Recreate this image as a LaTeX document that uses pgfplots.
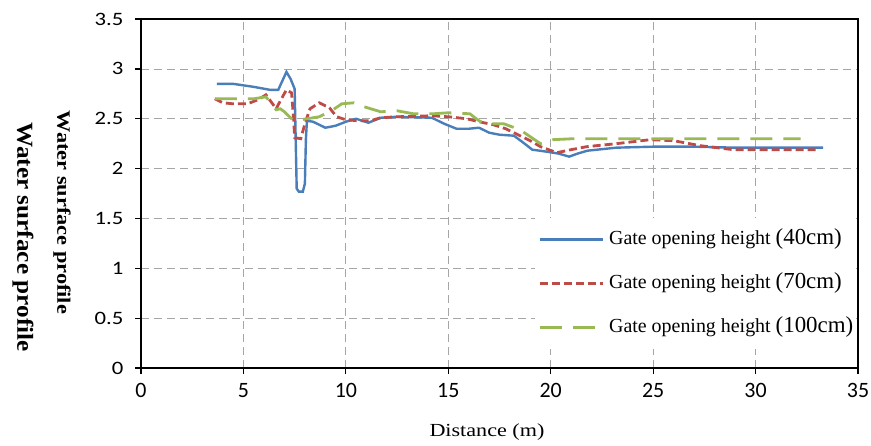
\documentclass[border=0pt]{standalone}
\usepackage{pgfplots}
\pgfplotsset{compat=1.18}
\usepackage{fontspec}
\setmainfont{Liberation Serif}
\newfontfamily\ytickfont[FakeStretch=1.2]{Carlito}
\newfontfamily\xtickfont{Carlito}
\newfontfamily\legfont{Liberation Serif}
\newfontfamily\xlabfont[FakeStretch=1.2]{Liberation Serif}
\newfontfamily\smalllab[FakeStretch=1.18]{Liberation Serif}
\newfontfamily\biglab[FakeStretch=1.1]{Liberation Serif}

\definecolor{cblue}{HTML}{4A7EBB}
\definecolor{cred}{HTML}{BE4B48}
\definecolor{cgreen}{HTML}{98B954}
\definecolor{cgrid}{HTML}{A6A6A6}

\begin{document}
\begin{tikzpicture}
\begin{axis}[
  width=717bp, height=349bp, scale only axis,
  xmin=0, xmax=35, ymin=0, ymax=3.5,
  xtick={0,5,...,35}, ytick={0,0.5,...,3.5},
  grid=major, grid style={cgrid, line width=0.8bp, dash pattern=on 8bp off 5bp},
  axis line style={black, line width=1.6bp},
  tick style={black, line width=1.2bp},
  tick align=outside, major tick length=6bp,
  xtick pos=left, ytick pos=left,
  x tick label style={font=\xtickfont\fontsize{22}{22}\selectfont, yshift=-6bp},
  y tick label style={font=\ytickfont\fontsize{19}{19}\selectfont, xshift=-8bp},
  /pgf/number format/assume math mode=true,
  clip=false,
  legend image code/.code={\draw[#1] (0bp,0bp) -- (63bp,0bp);},
  legend cell align=left,
  legend style={at={(rel axis cs:1,0.43)}, xshift=-1.5bp, anchor=north east, fill=white, draw=none,
    inner xsep=3bp, inner ysep=12bp, row sep=25bp, column sep=5bp,
    font=\legfont\fontsize{20}{20}\selectfont,
    nodes={inner sep=0pt, text height=14bp, text depth=5bp}},
]
% gate opening 40 cm
\addplot[cblue, line width=2.4bp] coordinates {
(3.7,2.85) (4.5,2.85) (5.5,2.82) (6.3,2.79) (6.7,2.79) (6.9,2.88) (7.1,2.97)
(7.3,2.90) (7.5,2.80) (7.55,2.3) (7.6,1.80) (7.7,1.77) (7.9,1.77) (8.0,1.85)
(8.05,2.3) (8.1,2.48) (8.4,2.47) (9.0,2.41) (9.5,2.43) (10.0,2.47) (10.5,2.50)
(11.1,2.46) (11.7,2.51) (12.5,2.52) (14.2,2.51) (14.8,2.45) (15.4,2.40) (16.0,2.40)
(16.5,2.41) (17.0,2.36) (17.5,2.34) (18.2,2.33) (18.6,2.27) (19.1,2.19) (19.8,2.17)
(20.4,2.15) (20.9,2.12) (21.3,2.15) (21.8,2.18) (23.2,2.21) (25,2.22) (27,2.22)
(29,2.21) (33.3,2.21)};
\addlegendentry{Gate opening height {\fontsize{23}{23}\selectfont(40cm)}}
% gate opening 70 cm
\addplot[cred, line width=2.8bp, dash pattern=on 8bp off 4bp] coordinates {
(3.6,2.70) (4.0,2.66) (4.5,2.65) (5.2,2.65) (5.7,2.69) (6.1,2.74) (6.6,2.60)
(6.8,2.68) (7.1,2.79) (7.35,2.76) (7.45,2.50) (7.5,2.31) (7.8,2.30) (8.0,2.45)
(8.25,2.60) (8.7,2.66) (9.2,2.61) (9.55,2.52) (10.0,2.49) (10.6,2.48) (11.2,2.48)
(11.7,2.51) (12.5,2.52) (14.2,2.53) (15.0,2.52) (15.9,2.50) (16.5,2.47) (17.2,2.44)
(17.8,2.40) (18.3,2.35) (19.0,2.28) (19.5,2.22) (20.3,2.16) (21.0,2.19) (21.75,2.22)
(23.2,2.25) (24.85,2.29) (26,2.28) (27.3,2.23) (28.9,2.19) (33.0,2.19)};
\addlegendentry{Gate opening height {\fontsize{23}{23}\selectfont(70cm)}}
% gate opening 100 cm
\addplot[cgreen, line width=2.8bp, dash pattern=on 22bp off 11bp] coordinates {
(3.6,2.70) (4.5,2.70) (5.5,2.70) (6.1,2.72) (6.4,2.64) (6.6,2.59) (6.8,2.60)
(7.0,2.57) (7.4,2.49) (7.8,2.49) (8.1,2.50) (8.7,2.52) (9.3,2.58) (9.8,2.65)
(10.4,2.66) (10.9,2.62) (11.7,2.57) (12.5,2.58) (13.3,2.55) (14.25,2.55) (15.0,2.56)
(16.05,2.55) (16.5,2.48) (16.8,2.45) (17.7,2.45) (18.5,2.39) (19.0,2.32) (19.5,2.25)
(20.1,2.29) (21.1,2.30) (32.2,2.30)};
\addlegendentry{Gate opening height {\fontsize{23}{23}\selectfont(100cm)}}

\node[rotate=-90, inner sep=0pt, font=\smalllab\bfseries\fontsize{19}{19}\selectfont]
  at (axis cs:-3.856,1.56) {Water surface profile};
\node[rotate=-90, inner sep=0pt, font=\biglab\bfseries\fontsize{23}{23}\selectfont]
  at (axis cs:-5.76,1.314) {Water surface profile};
\node[inner sep=0pt, font=\xlabfont\fontsize{18.5}{18.5}\selectfont]
  at (axis cs:16.886,-0.642) {Distance (m)};
\coordinate (bl) at (axis cs:-6.883,-0.772);
\coordinate (tr) at (axis cs:35.634,3.691);
\end{axis}
\pgfresetboundingbox
\useasboundingbox (bl) rectangle (tr);
\end{tikzpicture}
\end{document}
